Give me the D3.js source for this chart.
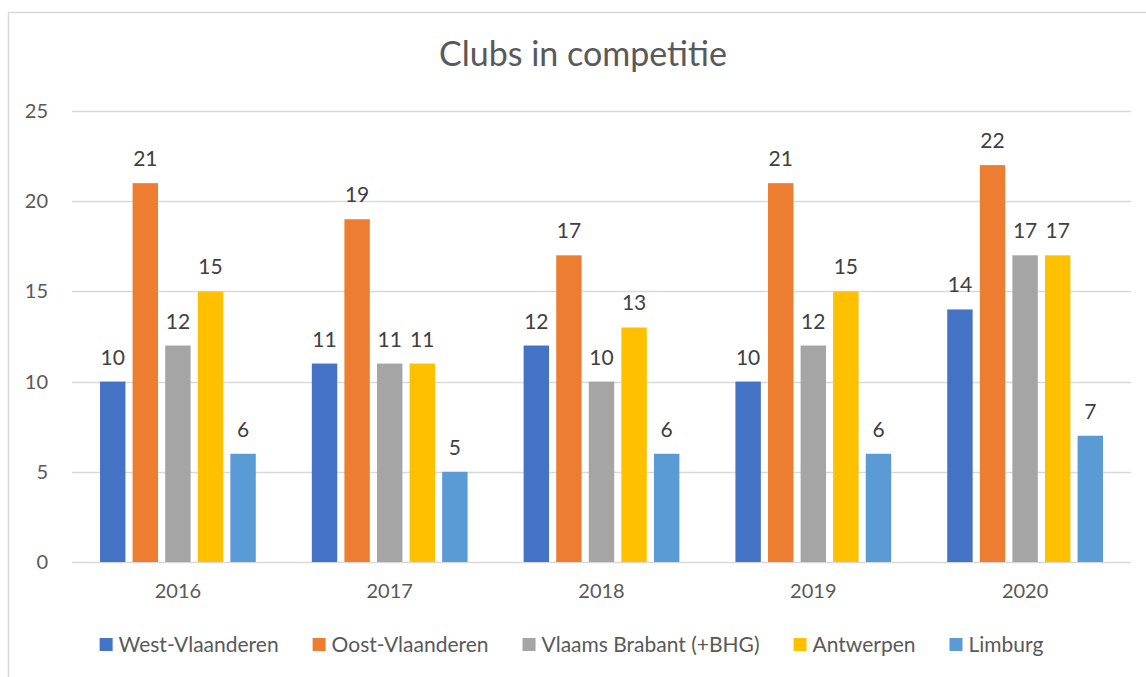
<!DOCTYPE html>
<html lang="nl">
<head>
<meta charset="utf-8">
<script src="https://d3js.org/d3.v7.min.js"></script>
<style>
  html, body { margin: 0; padding: 0; background: #fff; }
  svg { display: block; font-family: Lato, "Open Sans", sans-serif; }
</style>
</head>
<body>
<div id="chart"></div>
<script>
// data
var years = ["2016", "2017", "2018", "2019", "2020"];
var seriesNames = ["West-Vlaanderen", "Oost-Vlaanderen", "Vlaams Brabant (+BHG)", "Antwerpen", "Limburg"];
var westVlaanderen = [10, 11, 12, 10, 14];
var oostVlaanderen = [21, 19, 17, 21, 22];
var vlaamsBrabant = [12, 11, 10, 12, 17];
var antwerpen = [15, 11, 13, 15, 17];
var limburg = [6, 5, 6, 6, 7];
var yTicks = [0, 5, 10, 15, 20, 25];

var colors = ["#4472C4", "#ED7D31", "#A5A5A5", "#FFC000", "#5B9BD5"];
var values = [westVlaanderen, oostVlaanderen, vlaamsBrabant, antwerpen, limburg];

var width = 1146, height = 677;
var plotLeft = 72, plotRight = 1131, plotTop = 111, plotBottom = 562;
var textColor = "#595959";

var svg = d3.select("#chart").append("svg")
    .attr("width", width)
    .attr("height", height);

// chart frame (runs off the right and bottom edge)
svg.append("rect")
    .attr("x", 8.5).attr("y", 12.5)
    .attr("width", 1160).attr("height", 700)
    .attr("fill", "#fff")
    .attr("stroke", "#D9D9D9")
    .attr("stroke-width", 1.5);

// title
svg.append("text")
    .attr("x", 583).attr("y", 66)
    .attr("text-anchor", "middle")
    .attr("fill", textColor)
    .style("font-size", "34px")
    .text("Clubs in competitie");

// scales
var x0 = d3.scaleBand().domain(years).range([plotLeft, plotRight]).padding(0);
var x1 = d3.scaleBand().domain(seriesNames).range([0, x0.bandwidth()])
    .paddingInner(0.22).paddingOuter(0.86);
var y = d3.scaleLinear().domain([0, 25]).range([plotBottom, plotTop]);

// gridlines
svg.append("g").selectAll("line")
    .data(yTicks)
    .join("line")
    .attr("x1", plotLeft).attr("x2", plotRight)
    .attr("y1", function(d) { return Math.round(y(d)) + 0.5; })
    .attr("y2", function(d) { return Math.round(y(d)) + 0.5; })
    .attr("stroke", "#D9D9D9")
    .attr("stroke-width", 1.5);

// y axis labels
var yAxis = d3.axisLeft(y).tickValues(yTicks).tickSize(0).tickPadding(24);
var gy = svg.append("g").attr("transform", "translate(" + plotLeft + ",0)").call(yAxis);
gy.select(".domain").remove();
gy.selectAll("text").attr("fill", textColor).style("font-size", "20px").style("font-family", "Lato, sans-serif");

// x axis labels
var xAxis = d3.axisBottom(x0).tickSize(0).tickPadding(22);
var gx = svg.append("g").attr("transform", "translate(0," + plotBottom + ")").call(xAxis);
gx.select(".domain").remove();
gx.selectAll("text").attr("fill", textColor).style("font-size", "20px").style("font-family", "Lato, sans-serif");

// bars
var rows = [];
years.forEach(function(yr, i) {
  seriesNames.forEach(function(s, j) {
    rows.push({ year: yr, series: s, value: values[j][i], color: colors[j] });
  });
});

var bars = svg.append("g");
bars.selectAll("rect")
    .data(rows)
    .join("rect")
    .attr("x", function(d) { return x0(d.year) + x1(d.series); })
    .attr("y", function(d) { return y(d.value); })
    .attr("width", x1.bandwidth())
    .attr("height", function(d) { return y(0) - y(d.value); })
    .attr("fill", function(d) { return d.color; });

// data labels
bars.selectAll("text")
    .data(rows)
    .join("text")
    .attr("x", function(d) { return x0(d.year) + x1(d.series) + x1.bandwidth() / 2; })
    .attr("y", function(d) { return y(d.value) - 17; })
    .attr("text-anchor", "middle")
    .attr("fill", "#404040")
    .style("font-size", "21px")
    .text(function(d) { return d.value; });

// legend, centered
var legend = svg.append("g");
var items = legend.selectAll("g")
    .data(seriesNames)
    .join("g");
items.append("rect")
    .attr("y", 638).attr("width", 13).attr("height", 13)
    .attr("fill", function(d, i) { return colors[i]; });
items.append("text")
    .attr("x", 19).attr("y", 652)
    .attr("fill", textColor)
    .style("font-size", "21px")
    .text(function(d) { return d; });

var gap = 34, pos = 0, offsets = [];
items.each(function() {
  var w = 19 + d3.select(this).select("text").node().getComputedTextLength();
  offsets.push(pos);
  pos += w + gap;
});
var total = pos - gap;
var start = 571.5 - total / 2;
items.attr("transform", function(d, i) { return "translate(" + (start + offsets[i]) + ",0)"; });
</script>
</body>
</html>
